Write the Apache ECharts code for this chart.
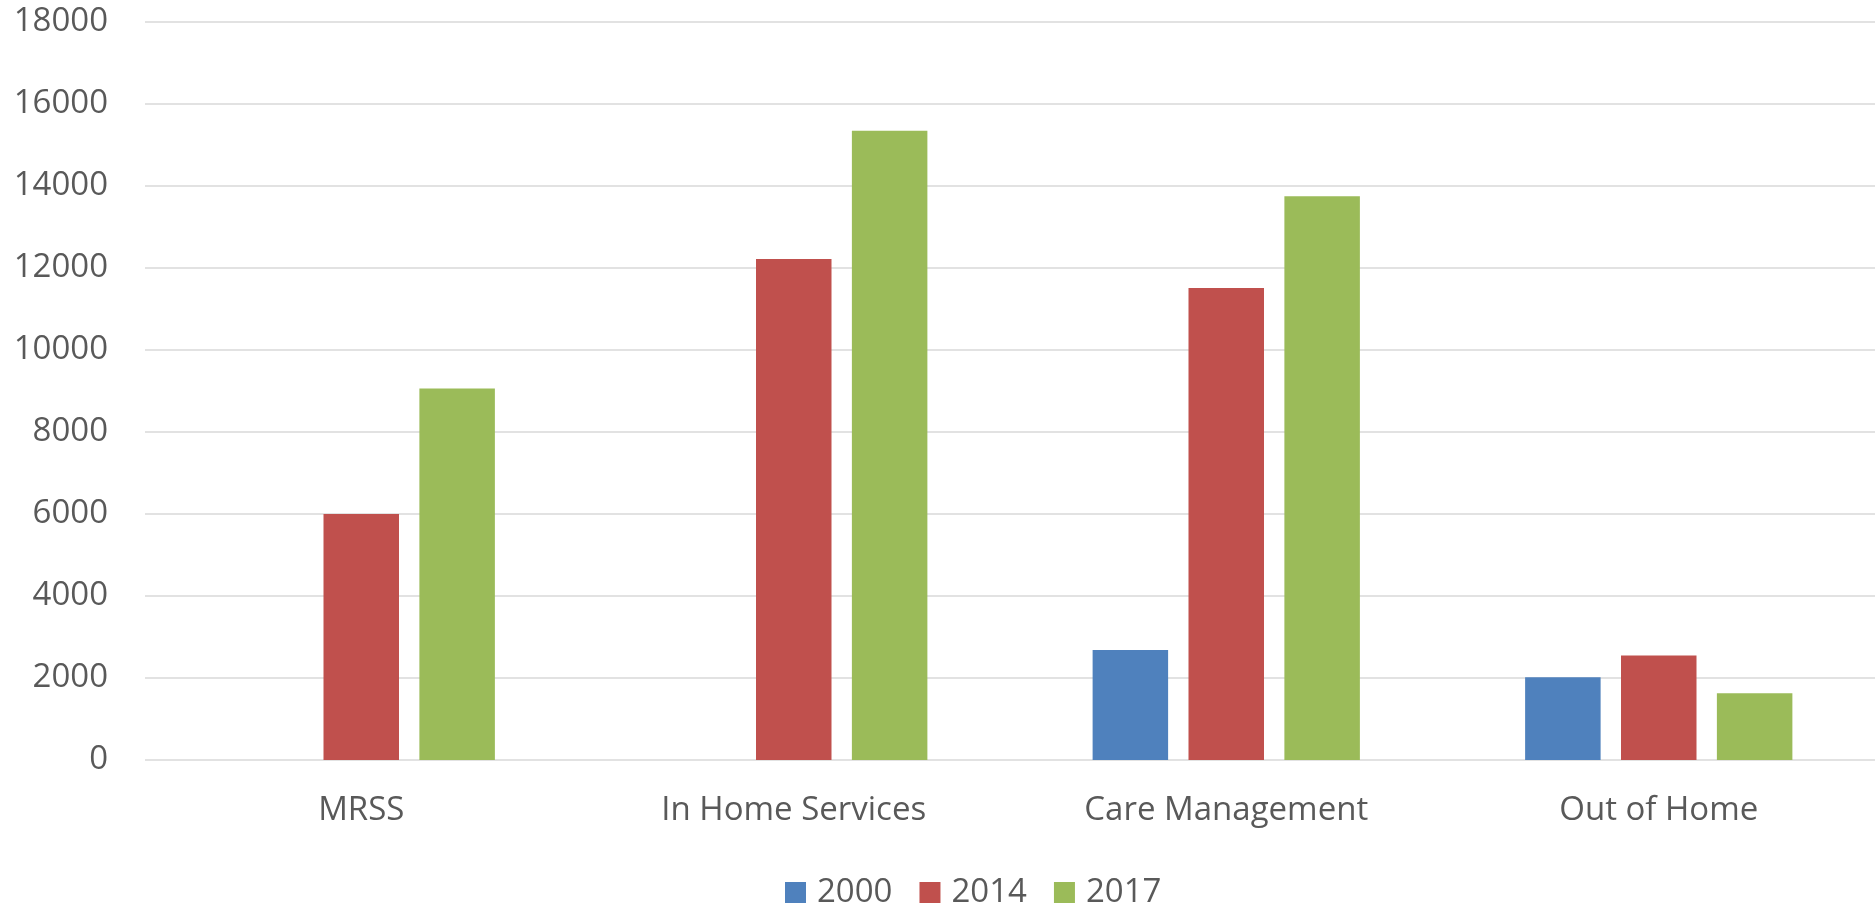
<!DOCTYPE html>
<html>
<head>
<meta charset="utf-8">
<script src="https://cdn.jsdelivr.net/npm/echarts@6/dist/echarts.min.js"></script>
<style>
  html, body { margin: 0; padding: 0; background: #ffffff; }
  #chart { width: 1875px; height: 906px; }
</style>
</head>
<body>
<div id="chart"></div>
<script>
const categories = ['MRSS', 'In Home Services', 'Care Management', 'Out of Home'];
const seriesNames = ['2000', '2014', '2017'];
const values2000 = [0, 0, 2680, 2020];
const values2014 = [6000, 12220, 11510, 2550];
const values2017 = [9060, 15350, 13750, 1630];
const yTicks = { min: 0, max: 18000, interval: 2000 };
const colors = ['#4F81BD', '#C0504D', '#9BBB59'];

const FONT = '"Open Sans", "Noto Sans", sans-serif';
const TEXT = '#595959';

const chart = echarts.init(document.getElementById('chart'), null, { renderer: 'canvas' });
const allValues = [values2000, values2014, values2017];

chart.setOption({
  animation: false,
  backgroundColor: '#ffffff',
  textStyle: { fontFamily: FONT },
  grid: { left: 145, width: 1737, top: 22, bottom: 146, containLabel: false },
  legend: {
    data: seriesNames,
    left: 785,
    top: 876,
    padding: 0,
    itemWidth: 21,
    itemHeight: 21,
    itemGap: 27,
    icon: 'rect',
    textStyle: { color: TEXT, fontSize: 33, fontFamily: FONT, padding: [0, 0, 0, 6] }
  },
  xAxis: {
    type: 'category',
    data: categories,
    axisLine: { show: false },
    axisTick: { show: false },
    axisLabel: { color: TEXT, fontSize: 33, fontFamily: FONT, margin: 34 },
    splitLine: { show: false }
  },
  yAxis: {
    type: 'value',
    min: yTicks.min,
    max: yTicks.max,
    interval: yTicks.interval,
    axisLine: { show: false },
    axisTick: { show: false },
    axisLabel: { color: TEXT, fontSize: 33, fontFamily: FONT, margin: 37, formatter: v => String(v) },
    splitLine: { lineStyle: { color: '#d9d9d9', width: 1.5 } }
  },
  series: seriesNames.map((name, i) => ({
    name: name,
    type: 'bar',
    data: allValues[i],
    barWidth: 75.5,
    barGap: '27%',
    itemStyle: { color: colors[i] }
  }))
});
</script>
</body>
</html>
